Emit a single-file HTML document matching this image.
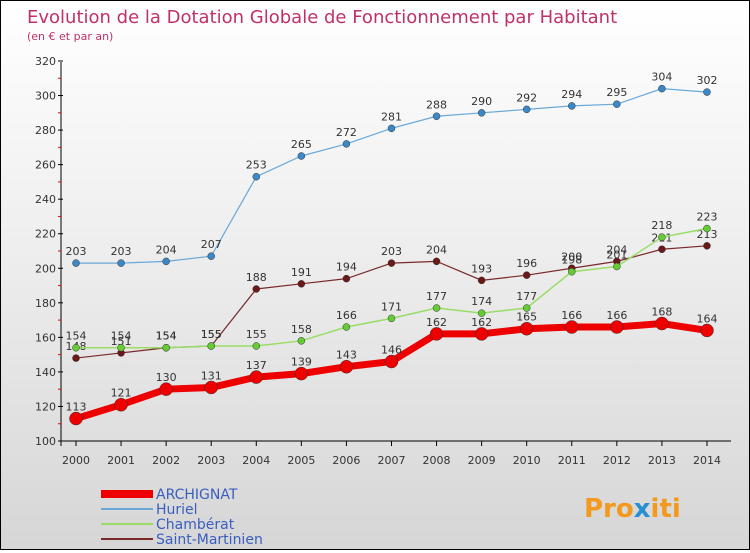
<!DOCTYPE html>
<html><head><meta charset="utf-8"><style>
body{margin:0}
#c{width:748px;height:548px;border:1px solid #000;background:linear-gradient(#fff,#f0f0f0 40%,#d6d6d6);position:relative;font-family:"DejaVu Sans","Liberation Sans",sans-serif}
svg text{font-family:"DejaVu Sans","Liberation Sans",sans-serif}
</style></head><body>
<div id="c">
<svg id="s" width="748" height="548" xmlns="http://www.w3.org/2000/svg">
<text x="26" y="22" font-size="18" fill="#c0306a">Evolution de la Dotation Globale de Fonctionnement par Habitant</text>
<text x="26" y="39" font-size="11" fill="#c0306a">(en € et par an)</text>
<g id="ax"></g><g id="series"></g><g id="lg"></g>
<text x="583" y="516" font-size="26" font-weight="bold" fill="#f39a1e">Pro<tspan fill="#2a8fd0">x</tspan>iti</text>
</svg></div>
<script>
const years=[2000,2001,2002,2003,2004,2005,2006,2007,2008,2009,2010,2011,2012,2013,2014];
const yTicks=[100,120,140,160,180,200,220,240,260,280,300,320];
const archignat=[113,121,130,131,137,139,143,146,162,162,165,166,166,168,164];
const huriel=[203,203,204,207,253,265,272,281,288,290,292,294,295,304,302];
const chamberat=[154,154,154,155,155,158,166,171,177,174,177,198,201,218,223];
const saintMartinien=[148,151,154,155,188,191,194,203,204,193,196,200,204,211,213];
const names=["ARCHIGNAT","Huriel","Chambérat","Saint-Martinien"];
const NS="http://www.w3.org/2000/svg";
const X=i=>75+i*45.07, Y=v=>440-(v-100)*380/220;
function mk(t,a,p,name){const e=document.createElementNS(NS,t);for(const k in a)e.setAttribute(k,a[k]);


p.appendChild(e);return e;}
const ax=document.getElementById('ax');
mk('line',{x1:60,y1:61,x2:60,y2:445,stroke:'#000'},ax,'y-axis');
mk('line',{x1:60,y1:440,x2:730,y2:440,stroke:'#000'},ax,'x-axis');
yTicks.forEach(v=>{mk('line',{x1:57,x2:62,y1:Y(v),y2:Y(v),stroke:'#000'},ax,'y-tick');
const t=mk('text',{x:55,y:Y(v)+4,'font-size':11,fill:'#333','text-anchor':'end'},ax,'y-tick-label');t.textContent=v;
if(v<320)mk('line',{x1:57,x2:60,y1:Y(v+10),y2:Y(v+10),stroke:'#e00'},ax,'y-minor-tick');});
years.forEach((y,i)=>{mk('line',{x1:X(i),x2:X(i),y1:440,y2:445,stroke:'#000'},ax,'x-tick');
const t=mk('text',{x:X(i),y:463,'font-size':11,fill:'#333','text-anchor':'middle'},ax,'x-tick-label');t.textContent=y;});
const sg=document.getElementById('series');
function draw(data,col,w,r,name,dot){
mk('polyline',{points:data.map((v,i)=>X(i)+','+Y(v)).join(' '),fill:'none',stroke:col,'stroke-width':w},sg,name+'-line');
data.forEach((v,i)=>{mk('circle',{cx:X(i),cy:Y(v),r:r,fill:dot,stroke:'#333','stroke-width':0.5},sg,name+'-point');
const t=mk('text',{x:X(i),y:Y(v)-8,'font-size':11,fill:'#333','text-anchor':'middle'},sg,name+'-label');t.textContent=v;});}
draw(saintMartinien,'#7a2a2a',1.2,3.5,'saint-martinien','#6a1818');
draw(chamberat,'#99dd66',1.5,3.5,'chamberat','#66cc33');
draw(huriel,'#6aa8d8',1.2,3.5,'huriel','#3a88c8');
draw(archignat,'#ee0000',7,6.5,'archignat','#ee0000');
const lg=document.getElementById('lg');
const cols=['#ee0000','#6aa8d8','#99dd66','#7a2a2a'],ws=[8,2,2,2];
names.forEach((n,i)=>{const y=493+i*15;
mk('line',{x1:100,x2:152,y1:y,y2:y,stroke:cols[i],'stroke-width':ws[i]},lg,'legend-swatch');
const t=mk('text',{x:155,y:y+5,'font-size':14,fill:'#3a5ec0'},lg,'legend-entry');t.textContent=n;});
</script></body></html>
